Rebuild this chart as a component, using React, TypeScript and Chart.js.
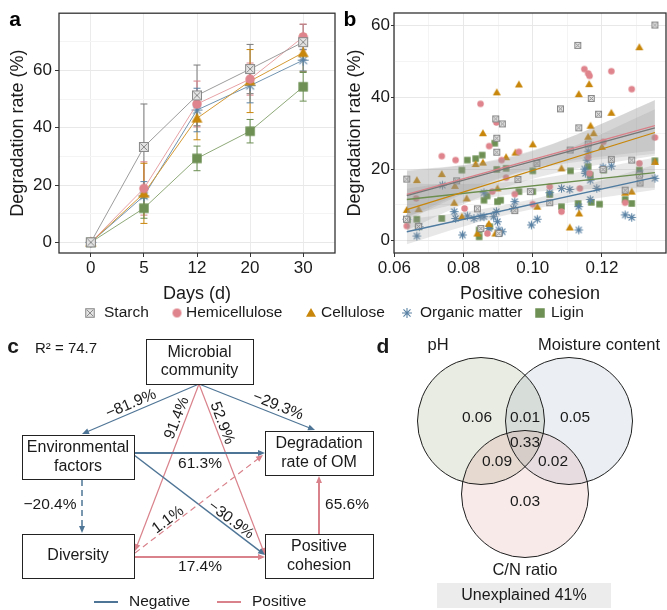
import React, { useEffect, useRef } from 'react';
import { Chart, registerables } from 'chart.js';
Chart.register(...registerables);

const FONT = '"Liberation Sans", Arial, Helvetica, sans-serif';
const INK = '#1a1a1a';

// ---------------- Panel a data ----------------
const dayLabels = ['0', '5', '12', '20', '30'];
const starchMean = [0, 33.3, 51.3, 60.5, 69.9];
const starchSd = [0.8, 15.0, 10.6, 8.6, 6.2];
const hemiMean = [0, 18.8, 48.3, 57.0, 71.7];
const hemiSd = [0.8, 9.3, 8.0, 5.6, 4.5];
const celluloseMean = [0, 17.1, 43.3, 56.3, 66.2];
const celluloseSd = [0.8, 10.5, 7.5, 11.0, 6.5];
const organicMean = [0, 16.2, 46.2, 54.7, 63.6];
const organicSd = [0.8, 5.0, 7.6, 6.0, 3.8];
const liginMean = [0, 11.9, 29.3, 38.8, 54.3];
const liginSd = [0.8, 3.5, 4.3, 4.1, 5.0];

// ---------------- Panel b data ----------------
const starchX = [0.0636, 0.1130, 0.1353, 0.1169, 0.1080, 0.1190, 0.1133, 0.0893, 0.0912, 0.0896, 0.0896, 0.0957, 0.1286, 0.1308, 0.1227, 0.1203, 0.1049, 0.0948, 0.0840, 0.0850, 0.0902, 0.0780, 0.0635, 0.1267, 0.1160, 0.0670, 0.1012, 0.1108, 0.0993, 0.1310];
const starchY = [17.2, 54.5, 60.2, 39.7, 36.8, 35.3, 31.5, 34.0, 32.6, 28.6, 24.7, 17.1, 22.5, 18.3, 22.7, 19.9, 10.6, 8.4, 8.9, 3.4, 2.0, 16.7, 6.0, 14.1, 27.0, 4.0, 21.6, 25.3, 13.7, 16.1];
const hemiX = [0.1149, 0.1160, 0.1164, 0.1227, 0.1286, 0.0849, 0.0895, 0.0737, 0.0777, 0.0874, 0.0960, 0.0910, 0.0923, 0.1353, 0.1308, 0.1204, 0.0636, 0.0663, 0.1000, 0.1083, 0.0948, 0.1049, 0.1160, 0.1164, 0.1136, 0.0803, 0.0883, 0.1267, 0.0869];
const hemiY = [47.9, 46.7, 46.0, 47.3, 42.3, 38.2, 33.0, 23.6, 22.5, 26.4, 24.8, 22.5, 17.6, 28.8, 21.6, 27.6, 4.1, 11.8, 10.2, 8.1, 13.0, 15.1, 23.4, 18.8, 14.6, 9.0, 13.7, 10.6, 2.0];
const celluloseX = [0.1308, 0.0960, 0.0896, 0.1133, 0.1163, 0.1227, 0.0856, 0.1167, 0.1000, 0.0950, 0.0923, 0.0856, 0.0835, 0.0737, 0.0665, 0.0636, 0.0670, 0.0775, 0.0773, 0.0809, 0.0898, 0.0795, 0.0840, 0.0873, 0.0892, 0.1013, 0.1083, 0.1107, 0.1134, 0.1200, 0.1176, 0.1267, 0.1286, 0.1353, 0.1160];
const celluloseY = [54.0, 43.6, 41.4, 40.9, 43.7, 35.7, 30.0, 32.1, 26.9, 24.6, 23.3, 21.8, 21.4, 18.6, 16.9, 8.6, 8.8, 15.3, 10.6, 11.8, 14.6, 6.7, 2.0, 4.7, 2.0, 9.5, 20.2, 3.7, 7.6, 26.2, 30.0, 13.4, 13.7, 22.0, 29.0];
const organicX = [0.1353, 0.1310, 0.1227, 0.1203, 0.1157, 0.1152, 0.1166, 0.1185, 0.1083, 0.1107, 0.1133, 0.1133, 0.1013, 0.0996, 0.1166, 0.1267, 0.1286, 0.1049, 0.0948, 0.0739, 0.0773, 0.0777, 0.0797, 0.0811, 0.0830, 0.0848, 0.0859, 0.0636, 0.0665, 0.0672, 0.0859, 0.0873, 0.0887, 0.0895, 0.0898, 0.0902, 0.0912, 0.0944, 0.1160, 0.1150];
const organicY = [17.4, 18.8, 20.8, 20.5, 22.5, 18.8, 16.9, 14.6, 14.6, 14.3, 9.5, 3.0, 6.0, 4.4, 11.5, 7.2, 6.5, 13.4, 10.9, 15.5, 8.1, 6.2, 1.6, 6.9, 6.2, 6.7, 6.7, 6.0, 1.3, 3.9, 13.4, 3.4, 6.7, 8.1, 5.3, 3.0, 2.5, 9.0, 25.0, 20.0];
const liginX = [0.1353, 0.1205, 0.1193, 0.1169, 0.1131, 0.1083, 0.1109, 0.1160, 0.1166, 0.1267, 0.1286, 0.1308, 0.1049, 0.0960, 0.1000, 0.1000, 0.0923, 0.0896, 0.0890, 0.0854, 0.0811, 0.0835, 0.0795, 0.0737, 0.0665, 0.0669, 0.0638, 0.0845, 0.0845, 0.0876, 0.0907, 0.0898, 0.0859, 0.0868];
const liginY = [22.3, 19.7, 10.2, 10.7, 10.4, 9.5, 19.5, 20.7, 18.3, 11.5, 10.4, 19.7, 12.9, 13.7, 13.7, 19.5, 20.2, 19.9, 27.2, 23.9, 22.5, 22.9, 19.7, 6.2, 6.0, 3.9, 5.8, 3.0, 1.1, 3.9, 11.3, 10.9, 11.3, 12.5];

// regression fits (endpoints) and confidence bands
const fitX = [0.0636, 0.1353];
const starchFit = [12.6, 31.5];
const hemiFit = [12.9, 32.1];
const celluloseFit = [8.7, 30.2];
const organicFit = [2.5, 17.7];
const liginFit = [11.5, 19.0];
const bandX = [0.0636, 0.08, 0.095, 0.11, 0.1353];
const starchLo = [5.7, 13.1, 18.6, 21.6, 24.3];
const starchHi = [19.7, 21.1, 23.6, 28.6, 39.3];
const hemiLo = [6.4, 13.5, 18.9, 22.2, 25.2];
const hemiHi = [19.4, 21.1, 23.9, 28.6, 39.2];
const celluloseLo = [2.9, 10.2, 15.8, 19.6, 23.7];
const celluloseHi = [14.5, 17.0, 20.4, 25.6, 36.7];
const organicLo = [-1.0, 4.0, 7.8, 10.5, 14.2];
const organicHi = [6.0, 8.0, 10.6, 14.1, 21.2];
const liginLo = [7.0, 10.6, 13.1, 14.2, 14.8];
const liginHi = [16.0, 15.8, 16.5, 18.6, 23.2];

// ---------------- Panel c data ----------------
const nodeNames = [['Microbial', 'community'], ['Environmental', 'factors'], ['Degradation', 'rate of OM'], ['Diversity'], ['Positive', 'cohesion']];
const pathCoef = ['\u221281.9%', '\u221229.3%', '91.4%', '52.9%', '61.3%', '\u221230.9%', '\u221220.4%', '1.1%', '17.4%', '65.6%'];
const pathSign = [-1, -1, 1, 1, -1, -1, -1, 1, 1, 1];
const pathSignificant = [true, true, true, true, true, true, false, false, true, true];
const r2Text = 'R\u00B2 = 74.7';

// ---------------- Panel d data ----------------
const vennSets = ['pH', 'Moisture content', 'C/N ratio'];
const vennValues = ['0.06', '0.01', '0.05', '0.33', '0.09', '0.02', '0.03'];
const unexplained = 'Unexplained 41%';

// ---------------- styles ----------------
const SERIES = [
  { name: 'Starch', kind: 'starch', line: '#9c9c9c', err: '#7a7a7a', fit: '#767676' },
  { name: 'Hemicellulose', kind: 'hemi', line: '#e7a2a6', err: '#d98089', fit: '#d98089' },
  { name: 'Cellulose', kind: 'cellulose', line: '#d49a35', err: '#c8860a', fit: '#c8860a' },
  { name: 'Organic matter', kind: 'organic', line: '#7194b0', err: '#5b83a5', fit: '#4f7ba0' },
  { name: 'Ligin', kind: 'ligin', line: '#8ea978', err: '#6b8e52', fit: '#6b8e4e' },
];
const NEG = '#4f7596';
const POS = '#d9828b';

function makeMarker(kind: string, s: number): HTMLCanvasElement {
  const size = Math.ceil(s) + 4;
  const cv = document.createElement('canvas');
  cv.width = size;
  cv.height = size;
  const g = cv.getContext('2d')!;
  const m = size / 2;
  const h = s / 2;
  if (kind === 'starch') {
    g.fillStyle = '#e3e3e3';
    g.fillRect(m - h, m - h, s, s);
    g.strokeStyle = '#8a8a8a';
    g.lineWidth = 1;
    g.strokeRect(m - h + 0.5, m - h + 0.5, s - 1, s - 1);
    g.beginPath();
    g.moveTo(m - h + 1.5, m - h + 1.5); g.lineTo(m + h - 1.5, m + h - 1.5);
    g.moveTo(m + h - 1.5, m - h + 1.5); g.lineTo(m - h + 1.5, m + h - 1.5);
    g.stroke();
  } else if (kind === 'hemi') {
    g.fillStyle = '#df848c';
    g.beginPath(); g.arc(m, m, h, 0, Math.PI * 2); g.fill();
  } else if (kind === 'cellulose') {
    g.fillStyle = '#c8860a';
    g.beginPath(); g.moveTo(m, m - h); g.lineTo(m + h, m + h * 0.75); g.lineTo(m - h, m + h * 0.75); g.closePath(); g.fill();
  } else if (kind === 'organic') {
    g.strokeStyle = '#5a82a4'; g.lineWidth = 1.1;
    g.beginPath();
    for (let k = 0; k < 4; k++) {
      const a = (k * Math.PI) / 4;
      g.moveTo(m - h * Math.cos(a), m - h * Math.sin(a));
      g.lineTo(m + h * Math.cos(a), m + h * Math.sin(a));
    }
    g.stroke();
  } else {
    g.fillStyle = '#6e9054';
    g.fillRect(m - h, m - h, s, s);
  }
  return cv;
}

const f = (size: number, weight: string = 'normal') => ({ family: FONT, size, weight: weight as any });

function framePlugin(letter: string, lx: number, ly: number) {
  return {
    id: 'frame_' + letter,
    afterDraw(chart: any) {
      const { ctx, chartArea: a } = chart;
      ctx.save();
      ctx.strokeStyle = '#333';
      ctx.lineWidth = 1.3;
      ctx.strokeRect(a.left, a.top, a.right - a.left, a.bottom - a.top);
      ctx.fillStyle = '#000';
      ctx.font = `bold 21px ${FONT}`;
      ctx.textAlign = 'center';
      ctx.textBaseline = 'middle';
      ctx.fillText(letter, lx, ly);
      ctx.restore();
    },
  };
}

const errorBars = {
  id: 'errorBars',
  beforeDatasetsDraw(chart: any) {
    const { ctx } = chart;
    const x = chart.scales.x;
    const y = chart.scales.y;
    chart.data.datasets.forEach((ds: any) => {
      if (!ds.sd) return;
      ctx.save();
      ctx.strokeStyle = ds.errColor;
      ctx.lineWidth = 1;
      ds.data.forEach((p: any, j: number) => {
        const px = x.getPixelForValue(p.x);
        const y1 = y.getPixelForValue(p.y - ds.sd[j]);
        const y2 = y.getPixelForValue(p.y + ds.sd[j]);
        ctx.beginPath();
        ctx.moveTo(px, y1); ctx.lineTo(px, y2);
        ctx.moveTo(px - 3.5, y1); ctx.lineTo(px + 3.5, y1);
        ctx.moveTo(px - 3.5, y2); ctx.lineTo(px + 3.5, y2);
        ctx.stroke();
      });
      ctx.restore();
    });
  },
};

function buildA(canvas: HTMLCanvasElement) {
  const means = [starchMean, hemiMean, celluloseMean, organicMean, liginMean];
  const sds = [starchSd, hemiSd, celluloseSd, organicSd, liginSd];
  const sizes = [10, 9.5, 11, 11, 9.5];
  const datasets = SERIES.map((s, i) => ({
    label: s.name,
    data: means[i].map((v, j) => ({ x: j, y: v })),
    sd: sds[i],
    errColor: s.err,
    borderColor: s.line,
    borderWidth: 1,
    pointStyle: makeMarker(s.kind, sizes[i]),
    pointRadius: 5,
    fill: false,
    tension: 0,
  }));
  return new Chart(canvas, {
    type: 'line',
    data: { datasets } as any,
    plugins: [errorBars, framePlugin('a', 15, 20)],
    options: {
      responsive: false,
      animation: false,
      layout: { padding: { left: 7, top: 13, right: 5, bottom: 0 }, autoPadding: false },
      plugins: { legend: { display: false }, tooltip: { enabled: false } },
      scales: {
        x: {
          type: 'linear', min: -0.6, max: 4.6,
          afterBuildTicks: (s: any) => { s.ticks = dayLabels.map((_, i) => ({ value: i })); },
          afterFit: (s: any) => { s.height = 52; },
          ticks: { callback: (v: any) => dayLabels[v] ?? '', font: f(17), color: INK, padding: 1, maxRotation: 0, autoSkip: false },
          grid: { color: '#ebebeb', tickColor: '#333', tickLength: 4 },
          border: { display: false },
          title: { display: true, text: 'Days (d)', font: f(18), color: INK, padding: 0 },
        },
        y: {
          type: 'linear', min: -3.73, max: 80,
          afterBuildTicks: (s: any) => { s.ticks = [0, 10, 20, 30, 40, 50, 60, 70].map((v) => ({ value: v })); },
          afterFit: (s: any) => { s.width = 52; },
          ticks: { callback: (v: any) => (v % 20 === 0 ? String(v) : ''), font: f(17), color: INK, padding: 3, autoSkip: false },
          grid: {
            color: (c: any) => (c.tick && c.tick.value % 20 === 0 ? '#e8e8e8' : '#f4f4f4'),
            tickColor: (c: any) => (c.tick && c.tick.value % 20 === 0 ? '#333' : 'rgba(0,0,0,0)'),
            tickLength: 4,
          },
          border: { display: false },
          title: { display: true, text: 'Degradation rate (%)', font: f(18), color: INK, padding: 0 },
        },
      },
    } as any,
  });
}

function buildB(canvas: HTMLCanvasElement) {
  const xs = [starchX, hemiX, celluloseX, organicX, liginX];
  const ys = [starchY, hemiY, celluloseY, organicY, liginY];
  const fits = [starchFit, hemiFit, celluloseFit, organicFit, liginFit];
  const los = [starchLo, hemiLo, celluloseLo, organicLo, liginLo];
  const his = [starchHi, hemiHi, celluloseHi, organicHi, liginHi];
  const sizes = [7, 6.5, 8, 8.5, 6.5];
  const datasets: any[] = [];
  SERIES.forEach((s, i) => {
    datasets.push({
      label: s.name,
      data: xs[i].map((x, j) => ({ x, y: ys[i][j] })),
      showLine: false,
      pointStyle: makeMarker(s.kind, sizes[i]),
      pointRadius: 4,
      order: 3,
    });
  });
  SERIES.forEach((s, i) => {
    datasets.push({
      label: s.name + ' lo',
      data: bandX.map((x, j) => ({ x, y: los[i][j] })),
      borderWidth: 0, pointRadius: 0, fill: false, tension: 0.35, order: 2,
    });
    datasets.push({
      label: s.name + ' hi',
      data: bandX.map((x, j) => ({ x, y: his[i][j] })),
      borderWidth: 0, pointRadius: 0, tension: 0.35, order: 2,
      fill: '-1', backgroundColor: 'rgba(150,150,150,0.22)',
    });
  });
  SERIES.forEach((s, i) => {
    datasets.push({
      label: s.name + ' fit',
      data: fitX.map((x, j) => ({ x, y: fits[i][j] })),
      borderColor: s.fit, borderWidth: 1.3, pointRadius: 0, fill: false, order: 1,
    });
  });
  return new Chart(canvas, {
    type: 'line',
    data: { datasets },
    plugins: [framePlugin('b', 10, 20)],
    options: {
      responsive: false,
      animation: false,
      layout: { padding: { left: 4, top: 13, right: 1, bottom: 0 }, autoPadding: false },
      plugins: { legend: { display: false }, tooltip: { enabled: false } },
      scales: {
        x: {
          type: 'linear', min: 0.0599, max: 0.1385,
          afterBuildTicks: (s: any) => { s.ticks = [0.06, 0.07, 0.08, 0.09, 0.10, 0.11, 0.12, 0.13].map((v) => ({ value: v })); },
          afterFit: (s: any) => { s.height = 52; },
          ticks: {
            callback: (v: any) => (Math.round(v * 100) % 2 === 0 ? Number(v).toFixed(2) : ''),
            font: f(17), color: INK, padding: 1, maxRotation: 0, autoSkip: false,
          },
          grid: {
            color: (c: any) => (c.tick && Math.round(c.tick.value * 100) % 2 === 0 ? '#e8e8e8' : '#f4f4f4'),
            tickColor: (c: any) => (c.tick && Math.round(c.tick.value * 100) % 2 === 0 ? '#333' : 'rgba(0,0,0,0)'),
            tickLength: 4,
          },
          border: { display: false },
          title: { display: true, text: 'Positive cohesion', font: f(18), color: INK, padding: 0 },
        },
        y: {
          type: 'linear', min: -3.43, max: 63.55,
          afterBuildTicks: (s: any) => { s.ticks = [0, 10, 20, 30, 40, 50, 60].map((v) => ({ value: v })); },
          afterFit: (s: any) => { s.width = 50; },
          ticks: { callback: (v: any) => (v % 20 === 0 ? String(v) : ''), font: f(17), color: INK, padding: 1, autoSkip: false },
          grid: {
            color: (c: any) => (c.tick && c.tick.value % 20 === 0 ? '#e8e8e8' : '#f4f4f4'),
            tickColor: (c: any) => (c.tick && c.tick.value % 20 === 0 ? '#333' : 'rgba(0,0,0,0)'),
            tickLength: 3,
          },
          border: { display: false },
          title: { display: true, text: 'Degradation rate (%)', font: f(18), color: INK, padding: 0 },
        },
      },
    } as any,
  });
}

// layout of diagram (page coordinates)
const BOXES = [
  { x0: 146, x1: 253, y0: 339, y1: 384 },
  { x0: 22, x1: 134, y0: 435, y1: 479 },
  { x0: 265, x1: 373, y0: 431, y1: 475 },
  { x0: 22, x1: 134, y0: 534, y1: 578 },
  { x0: 265, x1: 373, y0: 534, y1: 578 },
];
const ARROWS = [
  { a: [199, 384], b: [82, 434], l: [131, 404], rot: -23, w: 1.2 },
  { a: [199, 384], b: [315, 430], l: [278, 406], rot: 22, w: 1.2 },
  { a: [199, 384], b: [135, 551], l: [177, 418], rot: -69, w: 1.2 },
  { a: [199, 384], b: [265, 555], l: [222, 423], rot: 69, w: 1.2 },
  { a: [134, 453], b: [265, 453], l: [200, 464], rot: 0, w: 2 },
  { a: [134, 455], b: [265, 555], l: [231, 520], rot: 37, w: 1.5 },
  { a: [82, 480], b: [82, 533], l: [50, 505], rot: 0, w: 1.5 },
  { a: [135, 553], b: [263, 455], l: [168, 520], rot: -37, w: 1.2 },
  { a: [134, 557], b: [265, 557], l: [200, 567], rot: 0, w: 2 },
  { a: [319, 534], b: [319, 476], l: [347, 505], rot: 0, w: 2 },
];
const LEGEND_POS = [
  { mx: 90, tx: 104 }, { mx: 177, tx: 186 }, { mx: 311, tx: 321 }, { mx: 407, tx: 420 }, { mx: 540, tx: 551 },
];
const VENN_CIRCLES = [
  { x: 481, y: 421, r: 63.5, c: 'rgba(125,150,95,0.18)' },
  { x: 569, y: 421, r: 63.5, c: 'rgba(120,150,172,0.15)' },
  { x: 525, y: 494, r: 63.5, c: 'rgba(205,95,95,0.13)' },
];
const VENN_LABEL_POS = [[477, 418], [525, 418], [575, 418], [525, 443], [497, 462], [553, 462], [525, 502]];

function buildCD(canvas: HTMLCanvasElement) {
  const legendMarkers = SERIES.map((s, i) => makeMarker(s.kind, [9.5, 9, 10, 10, 9.5][i]));
  const diagram = {
    id: 'diagram',
    afterDatasetsDraw(chart: any) {
      const { ctx } = chart;
      const X = (v: number) => chart.scales.x.getPixelForValue(v);
      const Y = (v: number) => chart.scales.y.getPixelForValue(v);
      ctx.save();
      // venn outlines
      const meta = chart.getDatasetMeta(0);
      ctx.strokeStyle = '#1e1e1e';
      ctx.lineWidth = 1;
      meta.data.forEach((el: any) => {
        ctx.beginPath();
        ctx.arc(el.x, el.y, el.options.radius, 0, Math.PI * 2);
        ctx.stroke();
      });
      ctx.fillStyle = INK;
      ctx.textAlign = 'center';
      ctx.textBaseline = 'middle';
      ctx.font = `15.5px ${FONT}`;
      vennValues.forEach((v, i) => ctx.fillText(v, X(VENN_LABEL_POS[i][0]), Y(VENN_LABEL_POS[i][1])));
      ctx.font = `16.5px ${FONT}`;
      ctx.fillText(vennSets[0], X(438), Y(345));
      ctx.fillText(vennSets[1], X(599), Y(345));
      ctx.fillText(vennSets[2], X(525), Y(570));
      ctx.fillStyle = '#ececec';
      ctx.fillRect(X(437), Y(583), X(611) - X(437), Y(608) - Y(583));
      ctx.fillStyle = INK;
      ctx.font = `16px ${FONT}`;
      ctx.fillText(unexplained, X(524), Y(596));

      // top legend
      ctx.font = `15.5px ${FONT}`;
      ctx.textAlign = 'left';
      SERIES.forEach((s, i) => {
        const m = legendMarkers[i];
        ctx.drawImage(m, X(LEGEND_POS[i].mx) - m.width / 2, Y(313) - m.height / 2);
        ctx.fillText(s.name, X(LEGEND_POS[i].tx), Y(313));
      });

      // panel letters
      ctx.font = `bold 21px ${FONT}`;
      ctx.textAlign = 'center';
      ctx.fillText('c', X(13), Y(347));
      ctx.fillText('d', X(383), Y(347));
      ctx.font = `15px ${FONT}`;
      ctx.textAlign = 'left';
      ctx.fillText(r2Text, X(35), Y(349));

      // arrows
      ARROWS.forEach((ar, i) => {
        const col = pathSign[i] < 0 ? NEG : POS;
        const x1 = X(ar.a[0]), y1 = Y(ar.a[1]), x2 = X(ar.b[0]), y2 = Y(ar.b[1]);
        const ang = Math.atan2(y2 - y1, x2 - x1);
        const hl = 7, hw = 3;
        ctx.strokeStyle = col;
        ctx.fillStyle = col;
        ctx.lineWidth = ar.w;
        ctx.setLineDash(pathSignificant[i] ? [] : [6, 4]);
        ctx.beginPath();
        ctx.moveTo(x1, y1);
        ctx.lineTo(x2 - Math.cos(ang) * hl * 0.8, y2 - Math.sin(ang) * hl * 0.8);
        ctx.stroke();
        ctx.setLineDash([]);
        ctx.beginPath();
        ctx.moveTo(x2, y2);
        ctx.lineTo(x2 - Math.cos(ang) * hl - Math.sin(ang) * hw, y2 - Math.sin(ang) * hl + Math.cos(ang) * hw);
        ctx.lineTo(x2 - Math.cos(ang) * hl + Math.sin(ang) * hw, y2 - Math.sin(ang) * hl - Math.cos(ang) * hw);
        ctx.closePath();
        ctx.fill();
      });
      // arrow labels
      ctx.fillStyle = INK;
      ctx.font = `15.5px ${FONT}`;
      ctx.textAlign = 'center';
      ARROWS.forEach((ar, i) => {
        ctx.save();
        ctx.translate(X(ar.l[0]), Y(ar.l[1]));
        ctx.rotate((ar.rot * Math.PI) / 180);
        ctx.fillText(pathCoef[i], 0, 0);
        ctx.restore();
      });

      // boxes
      BOXES.forEach((b, i) => {
        const x0 = X(b.x0), x1 = X(b.x1), y0 = Y(b.y0), y1 = Y(b.y1);
        ctx.fillStyle = '#fff';
        ctx.fillRect(x0, y0, x1 - x0, y1 - y0);
        ctx.strokeStyle = '#222';
        ctx.lineWidth = 1;
        ctx.strokeRect(Math.round(x0) + 0.5, Math.round(y0) + 0.5, x1 - x0, y1 - y0);
        ctx.fillStyle = INK;
        ctx.font = `16px ${FONT}`;
        const lines = nodeNames[i];
        const cy = (y0 + y1) / 2;
        lines.forEach((t, k) => ctx.fillText(t, (x0 + x1) / 2, cy + (k - (lines.length - 1) / 2) * 18.5));
      });

      // bottom legend
      ctx.lineWidth = 2;
      ctx.strokeStyle = NEG;
      ctx.beginPath(); ctx.moveTo(X(94), Y(602)); ctx.lineTo(X(118), Y(602)); ctx.stroke();
      ctx.strokeStyle = POS;
      ctx.beginPath(); ctx.moveTo(X(217), Y(602)); ctx.lineTo(X(241), Y(602)); ctx.stroke();
      ctx.fillStyle = INK;
      ctx.font = `15.5px ${FONT}`;
      ctx.textAlign = 'left';
      ctx.fillText('Negative', X(129), Y(602));
      ctx.fillText('Positive', X(252), Y(602));
      ctx.restore();
    },
  };
  return new Chart(canvas, {
    type: 'bubble',
    data: {
      datasets: [{
        data: VENN_CIRCLES.map((c) => ({ x: c.x, y: c.y, r: c.r })),
        backgroundColor: VENN_CIRCLES.map((c) => c.c),
        borderWidth: 0,
        hoverRadius: 0,
        clip: false,
      }],
    },
    plugins: [diagram],
    options: {
      responsive: false,
      animation: false,
      layout: { padding: 0, autoPadding: false },
      plugins: { legend: { display: false }, tooltip: { enabled: false } },
      scales: {
        x: { type: 'linear', min: 0, max: 667, display: false },
        y: { type: 'linear', min: 300, max: 610, reverse: true, display: false },
      },
    } as any,
  });
}

export default function App() {
  const refA = useRef<HTMLCanvasElement>(null);
  const refB = useRef<HTMLCanvasElement>(null);
  const refC = useRef<HTMLCanvasElement>(null);
  useEffect(() => {
    const charts = [buildA(refA.current!), buildB(refB.current!), buildCD(refC.current!)];
    return () => charts.forEach((c) => c.destroy());
  }, []);
  return (
    <div style={{ position: 'fixed', left: 0, top: 0, width: 667, height: 610, background: '#fff', overflow: 'hidden' }}>
      <canvas ref={refC} width={667} height={310} style={{ position: 'absolute', left: 0, top: 300, width: 667, height: 310 }} />
      <canvas ref={refA} width={340} height={305} style={{ position: 'absolute', left: 0, top: 0, width: 340, height: 305 }} />
      <canvas ref={refB} width={327} height={305} style={{ position: 'absolute', left: 340, top: 0, width: 327, height: 305 }} />
    </div>
  );
}
